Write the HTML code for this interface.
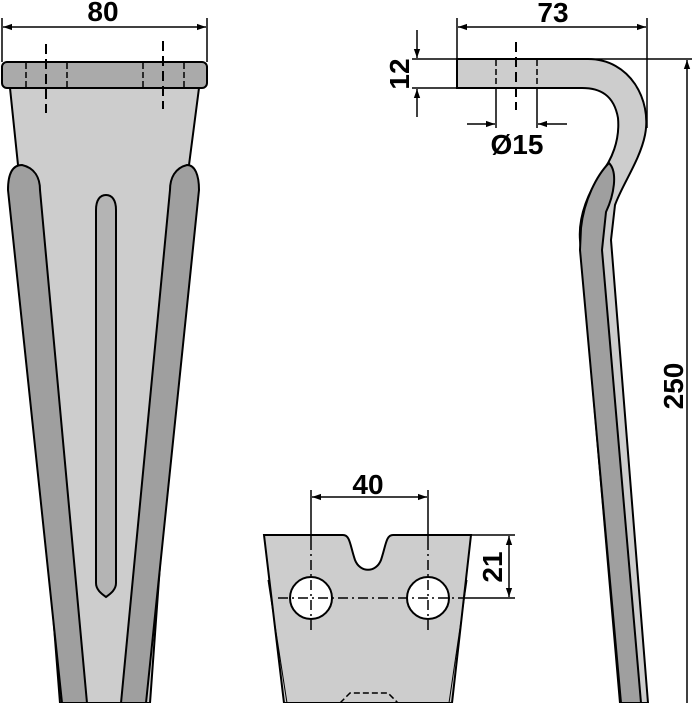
<!DOCTYPE html>
<html><head><meta charset="utf-8"><style>html,body{margin:0;padding:0;background:#fff}svg{display:block}text{font-family:"Liberation Sans",sans-serif;font-weight:bold;font-size:28px;fill:#000}</style></head>
<body>
<svg width="693" height="703" viewBox="0 0 693 703" xmlns="http://www.w3.org/2000/svg">
<defs>
<marker id="a" viewBox="0 0 10 10" refX="10" refY="5" markerWidth="9" markerHeight="9" orient="auto-start-reverse" markerUnits="userSpaceOnUse"><path d="M0,1.5 L10,5 L0,8.5 Z" fill="#000"/></marker>
</defs>
<path d="M10,88 L199,88 L189,165 L150,703 L60,703 L18,165 Z" fill="#cdcdcd" stroke="#000" stroke-width="2"/>
<path d="M8,190 C8,175 12,165 22,165 C35,168 40,178 40,190 L87,703 L62,703 Z" fill="#9f9f9f" stroke="#000" stroke-width="2"/>
<path d="M199,190 C199,175 195,165 187,165 C175,168 170,178 170,190 L121,703 L146,703 Z" fill="#9f9f9f" stroke="#000" stroke-width="2"/>
<path d="M96,210 C96,200 100,195 106,195 C112,195 116,200 116,210 L116,583 C116,590 110,594 106,597 C102,594 96,590 96,583 Z" fill="#b4b4b4" stroke="#000" stroke-width="2"/>
<rect x="2" y="62" width="205" height="26" rx="5" fill="#aaaaaa" stroke="#000" stroke-width="2"/>
<g stroke="#000" stroke-width="1.5" stroke-dasharray="6,3"><line x1="26" y1="63" x2="26" y2="87"/><line x1="67" y1="63" x2="67" y2="87"/><line x1="143" y1="63" x2="143" y2="87"/><line x1="184" y1="63" x2="184" y2="87"/></g>
<g stroke="#000" stroke-width="2" stroke-dasharray="10,5"><line x1="46" y1="44" x2="46" y2="113"/><line x1="163" y1="41" x2="163" y2="109"/></g>
<g stroke="#000" stroke-width="1.5"><line x1="2" y1="18" x2="2" y2="62"/><line x1="207" y1="18" x2="207" y2="62"/></g>
<line x1="3" y1="27" x2="206" y2="27" stroke="#000" stroke-width="1.5" marker-start="url(#a)" marker-end="url(#a)"/>
<text x="103" y="21" text-anchor="middle">80</text>

<path d="M457,59 H588 C630,59 652,100 645,135 C640,160 622,185 615,205 L611,240 L648,703 L620,703 L580,240 C578,215 590,190 600,175 C612,160 620,140 618,118 C614,95 600,88 582,88 H457 Z" fill="#cdcdcd" stroke="#000" stroke-width="2"/>
<path d="M581,228 C584,200 597,175 609,163 C618,172 614,195 606,212 L602,250 L641,703 L621,703 L580,250 Z" fill="#9f9f9f" stroke="#000" stroke-width="2"/>
<g stroke="#000" stroke-width="1.5" stroke-dasharray="6,3"><line x1="496" y1="60" x2="496" y2="87"/><line x1="537" y1="60" x2="537" y2="87"/></g>
<line x1="516" y1="42" x2="516" y2="110" stroke="#000" stroke-width="2" stroke-dasharray="10,5"/>
<g stroke="#000" stroke-width="1.5">
<line x1="496" y1="88" x2="496" y2="128"/><line x1="537" y1="88" x2="537" y2="128"/>
<line x1="457" y1="18" x2="457" y2="59"/><line x1="647" y1="18" x2="647" y2="128"/>
<line x1="412" y1="59" x2="692" y2="59"/><line x1="412" y1="88" x2="457" y2="88"/>
</g>
<line x1="458" y1="27" x2="646" y2="27" stroke="#000" stroke-width="1.5" marker-start="url(#a)" marker-end="url(#a)"/>
<text x="553" y="22" text-anchor="middle">73</text>
<line x1="417" y1="30" x2="417" y2="58" stroke="#000" stroke-width="1.5" marker-end="url(#a)"/>
<line x1="417" y1="117" x2="417" y2="89" stroke="#000" stroke-width="1.5" marker-end="url(#a)"/>
<text transform="translate(409,74) rotate(-90)" text-anchor="middle">12</text>
<line x1="467" y1="124" x2="495" y2="124" stroke="#000" stroke-width="1.5" marker-end="url(#a)"/>
<line x1="567" y1="124" x2="538" y2="124" stroke="#000" stroke-width="1.5" marker-end="url(#a)"/>
<text x="517" y="154" text-anchor="middle">Ø15</text>
<line x1="687" y1="703" x2="687" y2="60" stroke="#000" stroke-width="1.5" marker-end="url(#a)"/>
<text transform="translate(683,386) rotate(-90)" text-anchor="middle">250</text>

<path d="M264,535 H343 C350,535 350,545 355,560 C360,573 376,573 381,560 C386,545 386,535 393,535 H471 L452,703 H284 Z" fill="#cdcdcd" stroke="#000" stroke-width="2"/>
<line x1="268" y1="580" x2="287" y2="703" stroke="#000" stroke-width="1"/>
<line x1="467" y1="580" x2="449" y2="703" stroke="#000" stroke-width="1"/>
<circle cx="311" cy="598" r="21" fill="#fff" stroke="#000" stroke-width="2"/>
<circle cx="428" cy="598" r="21" fill="#fff" stroke="#000" stroke-width="2"/>
<line x1="278" y1="598" x2="462" y2="598" stroke="#000" stroke-width="1.5" stroke-dasharray="10,4,2,4"/>
<g stroke="#000" stroke-width="1.5" stroke-dasharray="10,4,2,4"><line x1="311" y1="540" x2="311" y2="632"/><line x1="428" y1="540" x2="428" y2="632"/></g>
<g stroke="#000" stroke-width="1.5"><line x1="311" y1="490" x2="311" y2="540"/><line x1="428" y1="490" x2="428" y2="540"/>
<line x1="471" y1="535" x2="515" y2="535"/><line x1="462" y1="598" x2="515" y2="598"/></g>
<path d="M340,703 L350,693 H388 L398,703" fill="none" stroke="#000" stroke-width="1.5" stroke-dasharray="6,3"/>
<line x1="312" y1="497" x2="427" y2="497" stroke="#000" stroke-width="1.5" marker-start="url(#a)" marker-end="url(#a)"/>
<text x="368" y="494" text-anchor="middle">40</text>
<line x1="509" y1="536" x2="509" y2="597" stroke="#000" stroke-width="1.5" marker-start="url(#a)" marker-end="url(#a)"/>
<text transform="translate(502,567) rotate(-90)" text-anchor="middle">21</text>
</svg>
</body></html>
